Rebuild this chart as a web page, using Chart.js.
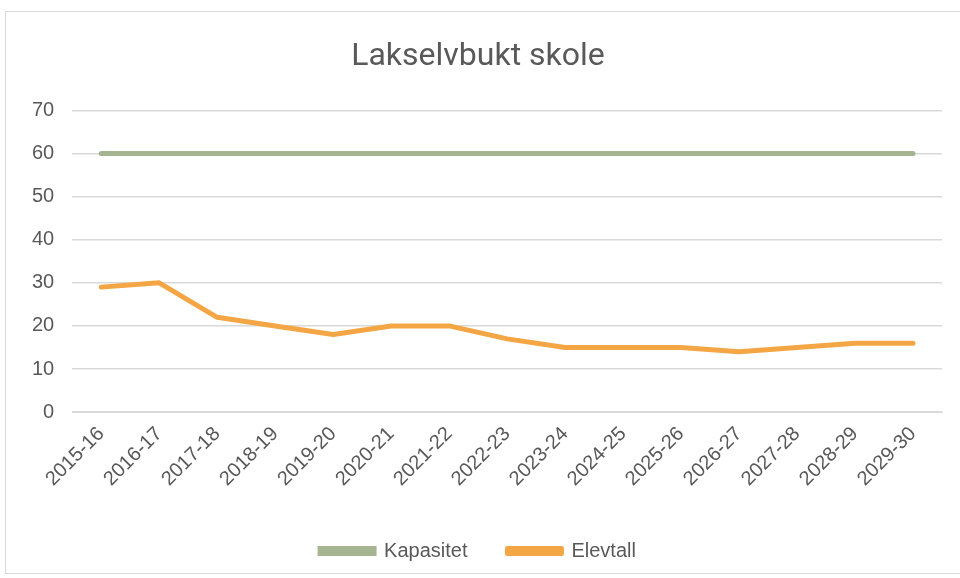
<!DOCTYPE html>
<html>
<head>
<meta charset="utf-8">
<script src="https://cdn.jsdelivr.net/npm/chart.js@4"></script>
<style>
  html, body { margin: 0; padding: 0; background: #fff; }
  #frame {
    position: absolute; left: 5px; top: 11px; width: 970px; height: 563px;
    border: 1px solid #d9d9d9; box-sizing: border-box;
  }
  #wrap { position: absolute; left: 6px; top: 12px; width: 954px; height: 561px; }
</style>
</head>
<body>
<div id="frame"></div>
<div id="wrap"><canvas id="chart"></canvas></div>
<script>
const years = ["2015-16", "2016-17", "2017-18", "2018-19", "2019-20", "2020-21", "2021-22", "2022-23",
               "2023-24", "2024-25", "2025-26", "2026-27", "2027-28", "2028-29", "2029-30"];
const kapasitet = [60, 60, 60, 60, 60, 60, 60, 60, 60, 60, 60, 60, 60, 60, 60];
const elevtall = [29, 30, 22, 20, 18, 20, 20, 17, 15, 15, 15, 14, 15, 16, 16];

const textColor = "#595959";
const font = "'Liberation Sans', Arial, sans-serif";

new Chart(document.getElementById("chart"), {
    type: 'line',
    data: {
        labels: years,
        datasets: [
            {
                label: "Kapasitet",
                borderColor: "#a5b592",
                backgroundColor: "#a5b592",
                borderWidth: 5,
                pointRadius: 0,
                borderCapStyle: 'round',
                data: kapasitet
            },
            {
                label: "Elevtall",
                borderColor: "#f4a645",
                backgroundColor: "#f4a645",
                borderWidth: 5,
                pointRadius: 0,
                borderCapStyle: 'round',
                borderJoinStyle: 'round',
                data: elevtall
            }
        ]
    },
    options: {
        responsive: true,
        maintainAspectRatio: false,
        animation: false,
        layout: { padding: { left: 8, right: 18, top: 10, bottom: 2 } },
        plugins: {
            title: {
                display: true,
                text: 'Lakselvbukt skole',
                color: textColor,
                font: { family: "'Liberation Sans Narrow', 'Roboto', sans-serif", size: 32, weight: 'normal' },
                padding: { top: 16, bottom: 34 }
            },
            legend: {
                position: 'bottom',
                labels: {
                    color: textColor,
                    font: { family: font, size: 20 },
                    boxWidth: 54,
                    boxHeight: 5,
                    padding: 40
                }
            },
            tooltip: { enabled: false }
        },
        scales: {
            x: {
                offset: true,
                grid: { display: false, drawTicks: false },
                border: { color: "#d9d9d9", width: 1 },
                ticks: {
                    color: textColor,
                    font: { family: font, size: 20 },
                    minRotation: 45,
                    maxRotation: 45,
                    padding: 10,
                    autoSkip: false
                }
            },
            y: {
                min: 0,
                max: 70,
                ticks: {
                    stepSize: 10,
                    color: textColor,
                    font: { family: font, size: 20 },
                    padding: 18
                },
                grid: { color: "#d9d9d9", lineWidth: 1.5, drawTicks: false },
                border: { display: false }
            }
        }
    }
});
</script>
</body>
</html>
